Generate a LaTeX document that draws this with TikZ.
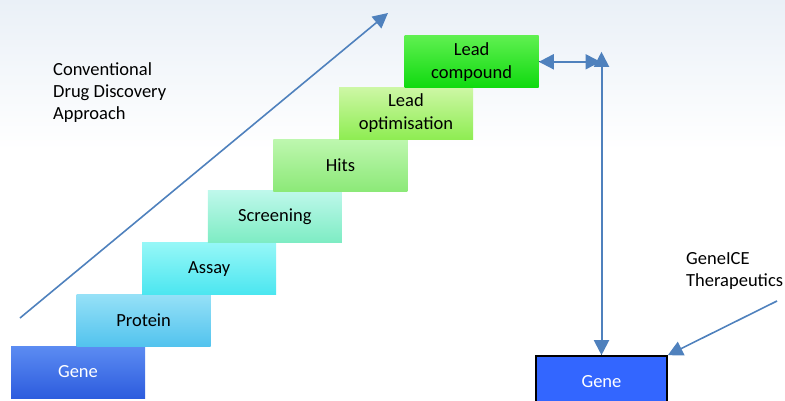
\documentclass[tikz,border=0pt]{standalone}
\usepackage{fontspec}
\setmainfont{Carlito}
\usetikzlibrary{arrows.meta,positioning}

\definecolor{linkblue}{RGB}{79,129,189}
\definecolor{geneT}{RGB}{92,140,242}      \definecolor{geneB}{RGB}{45,92,222}
\definecolor{proteinT}{RGB}{150,225,247}  \definecolor{proteinB}{RGB}{82,195,238}
\definecolor{assayT}{RGB}{150,247,247}    \definecolor{assayB}{RGB}{75,230,240}
\definecolor{screeningT}{RGB}{190,248,235}\definecolor{screeningB}{RGB}{125,236,195}
\definecolor{hitsT}{RGB}{190,247,175}     \definecolor{hitsB}{RGB}{140,233,120}
\definecolor{leadoptT}{RGB}{205,247,165}  \definecolor{leadoptB}{RGB}{142,237,82}
\definecolor{leadcompT}{RGB}{95,240,80}   \definecolor{leadcompB}{RGB}{15,218,15}
\definecolor{geneiceblue}{RGB}{51,102,255}

\tikzset{
  stepbox/.style={minimum width=134pt, minimum height=52pt, inner sep=0pt,
    align=center, font=\fontsize{18.5}{23}\selectfont},
  link/.style={draw=linkblue, line width=2pt, -{Triangle[length=15pt,width=15pt]}},
  twolink/.style={link, {Triangle[length=15pt,width=15pt]}-{Triangle[length=15pt,width=15pt]}},
  caption/.style={align=left, inner sep=0pt, anchor=north west,
    font=\fontsize{18.5}{22}\selectfont},
}

\begin{document}
\begin{tikzpicture}[x=1pt,y=-1pt]
  \useasboundingbox (0,0) rectangle (785,401);
  \shade[top color={rgb,255:red,234;green,240;blue,247}, bottom color=white]
    (0,0) rectangle (785,150);

  % conventional staircase
  \foreach \name/\txt [count=\i from 0] in {gene/{\color{white}Gene},
      protein/Protein, assay/Assay, screening/Screening, hits/Hits,
      leadopt/{Lead\\optimisation}, leadcomp/{Lead\\compound}} {
    \node[stepbox, top color=\name T, bottom color=\name B]
      (\name) at ({78+65.6*\i},{372-51.7*\i}) {\txt};
  }

  \coordinate (up0) at (20,318);
  \coordinate (up1) at (388,13);
  \draw[link, line width=1.6pt] (up0) -- (up1);
  \node[caption] (conv) at (53,62) {Conventional\\Drug Discovery\\Approach};

  % GeneICE route
  \node[stepbox, minimum width=131pt, fill=geneiceblue, draw=black,
        line width=1.6pt, text=white] (target) at (601.5,382) {Gene};
  \coordinate (corner) at (leadcomp.east -| target.north);
  \draw[line width=1.2pt] (leadcomp.east) -- (corner) -- (target.north);
  \draw[twolink] (leadcomp.east) -- ([xshift=-1pt]corner);
  \draw[twolink] (target.north) -- ([yshift=10pt]corner);

  \node[caption] (geneice) at (686,252) {GeneICE\\Therapeutics};
  \coordinate (ice0) at (777,301);
  \draw[link, line width=1.6pt] (ice0) -- (target.north east);
\end{tikzpicture}
\end{document}
